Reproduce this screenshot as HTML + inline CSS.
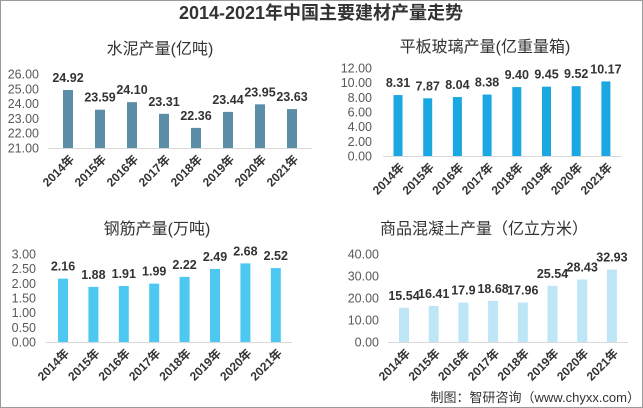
<!DOCTYPE html>
<html><head><meta charset="utf-8">
<style>
html,body{margin:0;padding:0;background:#fff;}
svg{display:block;font-family:"Liberation Sans","Noto Sans CJK SC",sans-serif;}
</style></head>
<body>
<svg id="s" width="643" height="408" viewBox="0 0 643 408" xmlns="http://www.w3.org/2000/svg">
<rect x="0.5" y="0.5" width="642" height="407" fill="#fff" stroke="#9a9a9a" stroke-width="1"/>
<text x="321" y="19" text-anchor="middle" font-size="18" font-weight="bold" fill="#333">2014-2021年中国主要建材产量走势</text>
<text x="160" y="54" text-anchor="middle" font-size="16" fill="#333">水泥产量(亿吨)</text>
<text x="485" y="52" text-anchor="middle" font-size="16" fill="#333">平板玻璃产量(亿重量箱)</text>
<text x="157" y="234" text-anchor="middle" font-size="16" fill="#333">钢筋产量(万吨)</text>
<text x="484" y="234" text-anchor="middle" font-size="16" fill="#333">商品混凝土产量（亿立方米）</text>
<text x="640" y="402" text-anchor="end" font-size="13" fill="#333">制图：智研咨询（www.chyxx.com）</text>
<g id="g"></g>
</svg>
<script>
var yrs=["2014年","2015年","2016年","2017年","2018年","2019年","2020年","2021年"];
var P=[
{v:[24.92,23.59,24.10,23.31,22.36,23.44,23.95,23.63],lab:["24.92","23.59","24.10","23.31","22.36","23.44","23.95","23.63"],min:21,max:26,step:1,yT:74,yB:148,lx:39,x0:68,dx:32,w:10,ax0:48,ax1:312,c:"#5b8fa8"},
{v:[8.31,7.87,8.04,8.38,9.40,9.45,9.52,10.17],lab:["8.31","7.87","8.04","8.38","9.40","9.45","9.52","10.17"],min:0,max:12,step:2,yT:68,yB:156,lx:372,x0:398,dx:29.7,w:9,ax0:383,ax1:622,c:"#1ba8e2"},
{v:[2.16,1.88,1.91,1.99,2.22,2.49,2.68,2.52],lab:["2.16","1.88","1.91","1.99","2.22","2.49","2.68","2.52"],min:0,max:3,step:0.5,yT:254,yB:342,lx:36,x0:63,dx:30.4,w:10,ax0:46,ax1:292,c:"#4cc8f2"},
{v:[15.54,16.41,17.9,18.68,17.96,25.54,28.43,32.93],lab:["15.54","16.41","17.9","18.68","17.96","25.54","28.43","32.93"],min:0,max:40,step:10,yT:254,yB:342,lx:379,x0:404,dx:29.7,w:10,ax0:388,ax1:628,c:"#bfe6f7"}
];
var h="";
P.forEach(function(p){
 var sc=(p.yB-p.yT)/(p.max-p.min);
 for(var t=p.min;t<=p.max+1e-9;t+=p.step){
  var y=p.yB-(t-p.min)*sc;
  h+='<text x="'+p.lx+'" y="'+(y+4.5)+'" text-anchor="end" font-size="12.5" fill="#595959">'+t.toFixed(2)+'</text>';
 }
 h+='<line x1="'+p.ax0+'" y1="'+(p.yB+0.5)+'" x2="'+p.ax1+'" y2="'+(p.yB+0.5)+'" stroke="#d9d9d9"/>';
 p.v.forEach(function(v,i){
  var cx=p.x0+i*p.dx, y=p.yB-(v-p.min)*sc;
  h+='<rect x="'+(cx-p.w/2)+'" y="'+y+'" width="'+p.w+'" height="'+(p.yB-y)+'" fill="'+p.c+'"/>';
  h+='<text x="'+cx+'" y="'+(y-8)+'" text-anchor="middle" font-size="12.5" font-weight="bold" fill="#333">'+p.lab[i]+'</text>';
  h+='<text transform="translate('+(cx+7)+','+(p.yB+12)+') rotate(-45)" text-anchor="end" font-size="12" font-weight="bold" fill="#333">'+yrs[i]+'</text>';
 });
});
document.getElementById("g").innerHTML=h;
</script>
</body></html>
